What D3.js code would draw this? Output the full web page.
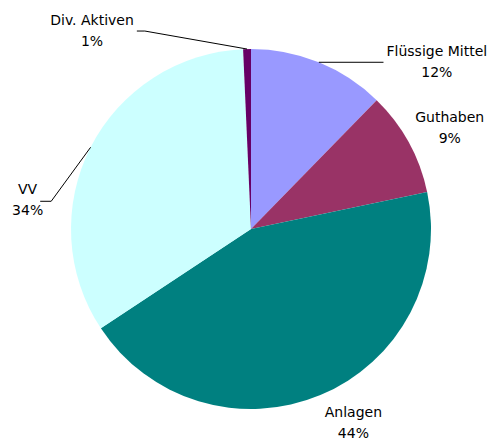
<!DOCTYPE html>
<html>
<head>
<meta charset="utf-8">
<script src="https://cdn.jsdelivr.net/npm/d3@7"></script>
<style>
    body { margin: 0; background: #fff; }
    text { font-family: "DejaVu Sans", Verdana, sans-serif; font-size: 14px; fill: #000; }
</style>
</head>
<body>
<div id="grafica"></div>
<script>
"use strict";

// datos del grafico (porcentajes)
const categorias = ["Flüssige Mittel", "Guthaben", "Anlagen", "VV", "Div. Aktiven"];
const valores = [12.3, 9.4, 44.0, 33.6, 0.7];
const colores = ["#9999FF", "#993366", "#008080", "#CCFFFF", "#660066"];

// layout de etiquetas: desplazamiento desde el punto medio del arco
// linea: si lleva linea guia y hacia que lado
const etiquetasLayout = [
    { dx: 118, dy: -6, linea: "derecha" },
    { dx: 41, dy: -20, linea: null },
    { dx: 33, dy: 22, linea: null },
    { dx: -63, dy: 47, linea: "izquierda" },
    { dx: -155, dy: -24, linea: "izquierda" }
];

const width = 489, height = 442;
const cx = 251, cy = 229, radio = 180;

const data = categorias.map((c, i) => ({ titulo: c, valor: valores[i] }));
const total = d3.sum(valores);

const svg = d3.select("#grafica").append("svg")
    .attr("width", width)
    .attr("height", height);

const chart = svg.append("g")
    .attr("transform", "translate(" + cx + "," + cy + ")");

const torta = d3.pie()
    .sort(null)
    .value(d => d.valor);

const arcos = d3.arc()
    .innerRadius(0)
    .outerRadius(radio);

const arcos_data = torta(data);

chart.selectAll(".arc")
    .data(arcos_data)
    .enter().append("path")
    .attr("class", "arc")
    .attr("d", arcos)
    .style("fill", (d, i) => colores[i]);

// punto sobre el borde en el angulo medio
function puntoBorde(d) {
    let a = (d.startAngle + d.endAngle) / 2;
    return [radio * Math.sin(a), -radio * Math.cos(a)];
}

const etiquetas = chart.selectAll(".etiqueta")
    .data(arcos_data)
    .enter().append("g")
    .attr("class", "etiqueta");

etiquetas.each(function (d, i) {
    let g = d3.select(this);
    let p = puntoBorde(d);
    let lay = etiquetasLayout[i];
    let x = p[0] + lay.dx, y = p[1] + lay.dy;

    let t = g.append("text")
        .attr("text-anchor", "middle")
        .attr("x", x)
        .attr("y", y);
    t.append("tspan").attr("x", x).text(d.data.titulo);
    t.append("tspan").attr("x", x).attr("dy", 21)
        .text(Math.round(d.data.valor * 100 / total) + "%");

    if (lay.linea) {
        let pts;
        if (lay.linea === "derecha") {
            let bb = t.node().getBBox();
            pts = [p, [bb.x - 3, p[1]]];
        } else {
            let ancho = this.querySelector("tspan").getComputedTextLength();
            let xFin = x + ancho / 2 + 3;
            let ly = y + 6 + (i === 3 ? 1 : 0);
            let codo = i === 4 ? 8 : 11;
            pts = [p, [xFin + codo, ly], [xFin, ly]];
        }
        g.append("path")
            .attr("d", d3.line()(pts))
            .attr("fill", "none")
            .attr("stroke", "#000")
            .attr("stroke-width", 1);
    }
});
</script>
</body>
</html>
